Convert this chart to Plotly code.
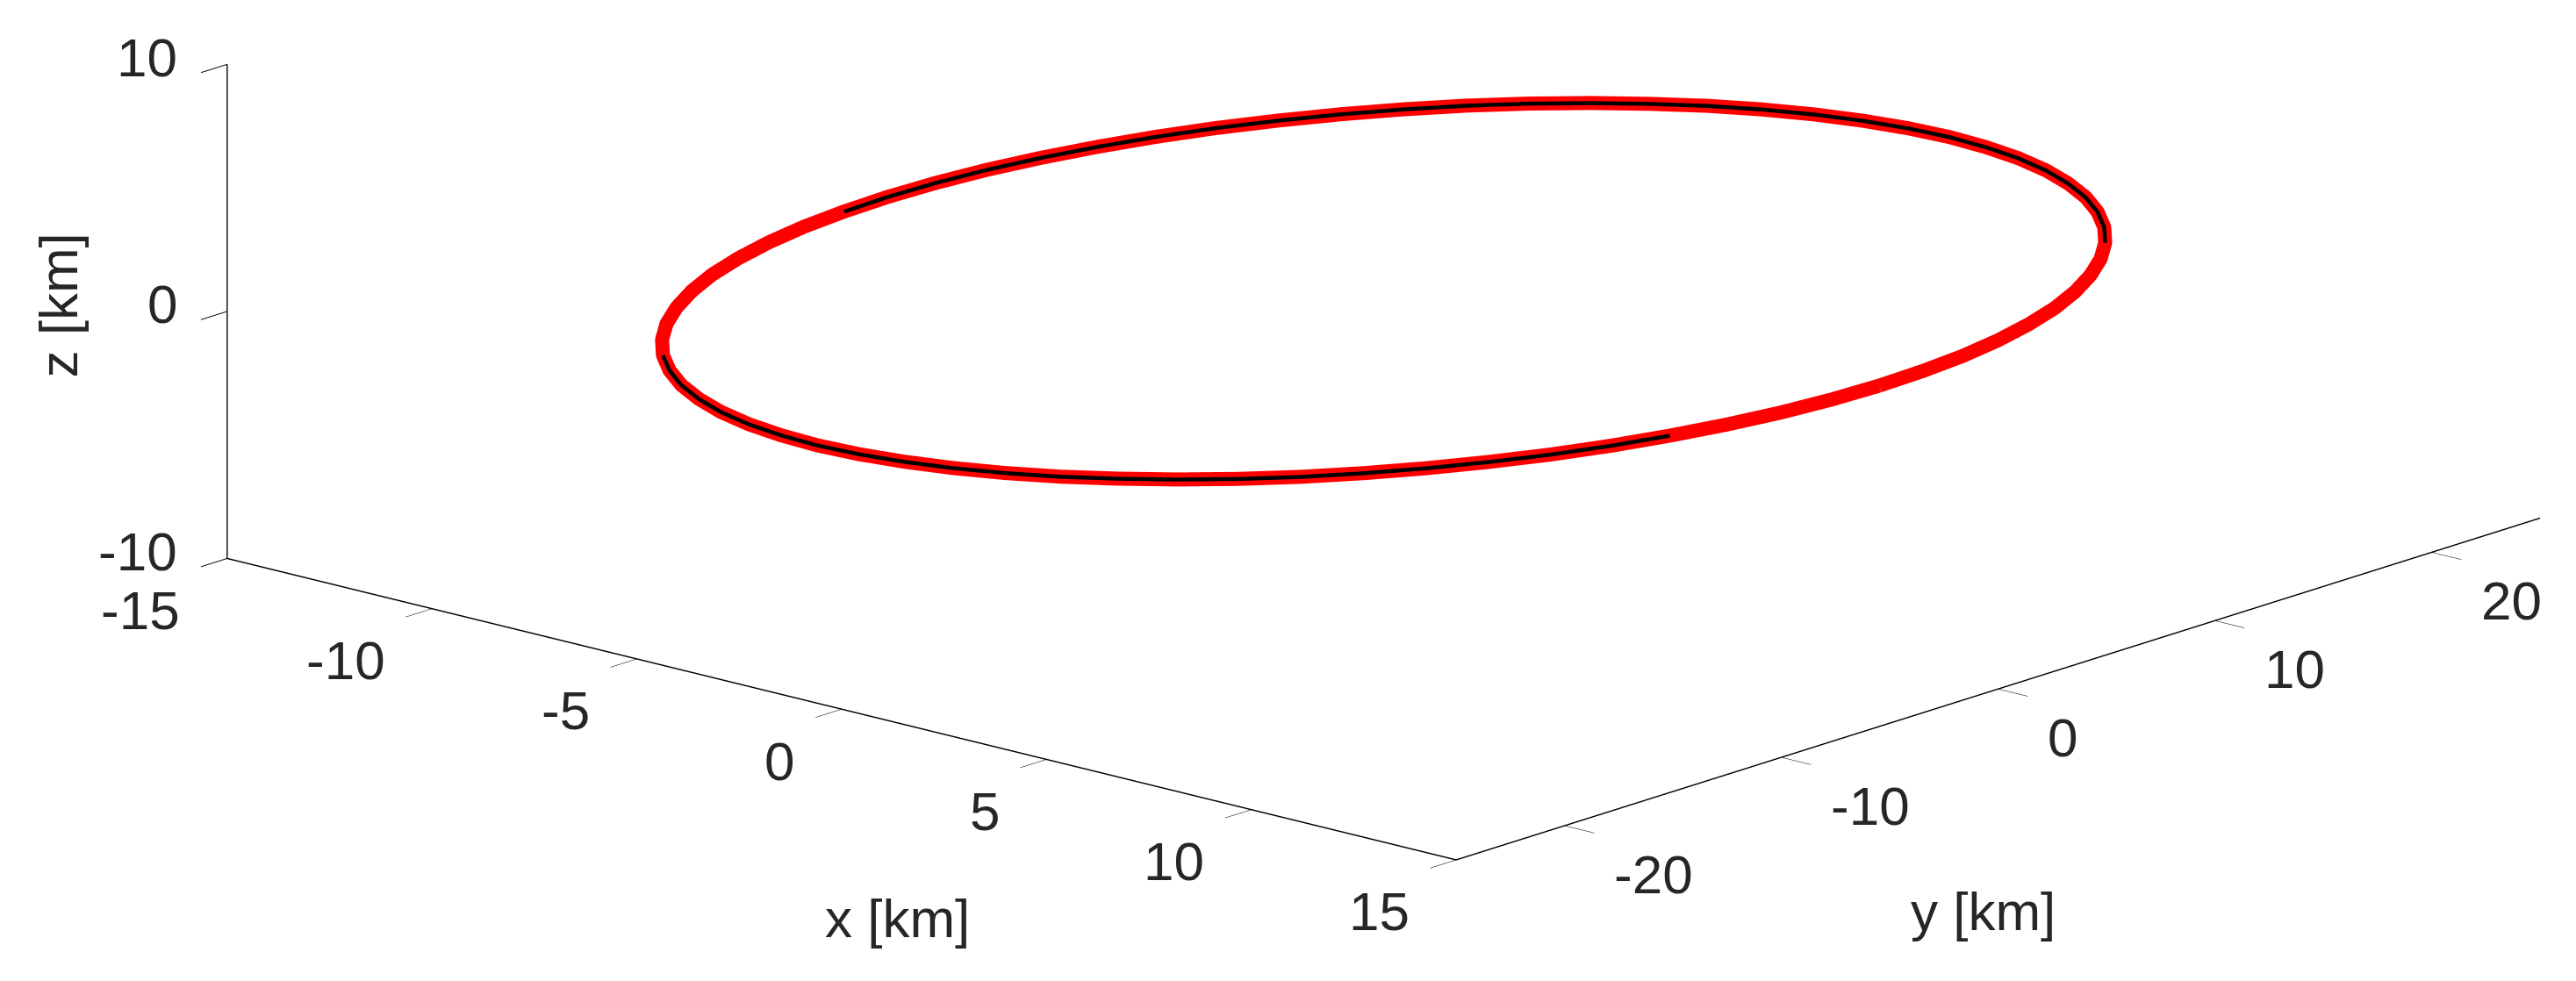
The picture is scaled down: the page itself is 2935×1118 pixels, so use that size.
import plotly.graph_objects as go

# orbit, one sample every 5 deg around the ellipse
orbit_x = [12.10, 12.05, 11.92, 11.69, 11.37, 10.97, 10.48, 9.91, 9.27, 8.56,
           7.78, 6.94, 6.05, 5.11, 4.14, 3.13, 2.10, 1.06, 0.00, -1.06,
           -2.10, -3.13, -4.14, -5.11, -6.05, -6.94, -7.78, -8.56, -9.27, -9.91,
           -10.48, -10.97, -11.37, -11.69, -11.92, -12.05, -12.10, -12.05, -11.92, -11.69,
           -11.37, -10.97, -10.48, -9.91, -9.27, -8.56, -7.78, -6.94, -6.05, -5.11,
           -4.14, -3.13, -2.10, -1.06, 0.00, 1.06, 2.10, 3.13, 4.14, 5.11,
           6.05, 6.94, 7.78, 8.56, 9.27, 9.91, 10.48, 10.97, 11.37, 11.69,
           11.92, 12.05, 12.10]
orbit_y = [0.00, 2.11, 4.20, 6.26, 8.28, 10.23, 12.10, 13.88, 15.56, 17.11,
           18.54, 19.82, 20.96, 21.93, 22.74, 23.37, 23.83, 24.11, 24.20, 24.11,
           23.83, 23.37, 22.74, 21.93, 20.96, 19.82, 18.54, 17.11, 15.56, 13.88,
           12.10, 10.23, 8.28, 6.26, 4.20, 2.11, 0.00, -2.11, -4.20, -6.26,
           -8.28, -10.23, -12.10, -13.88, -15.56, -17.11, -18.54, -19.82, -20.96, -21.93,
           -22.74, -23.37, -23.83, -24.11, -24.20, -24.11, -23.83, -23.37, -22.74, -21.93,
           -20.96, -19.82, -18.54, -17.11, -15.56, -13.88, -12.10, -10.23, -8.28, -6.26,
           -4.20, -2.11, 0.00]
orbit_z = [1.10, 1.09, 1.07, 1.04, 1.00, 0.95, 0.90, 0.84, 0.78, 0.71,
           0.63, 0.55, 0.46, 0.37, 0.28, 0.19, 0.09, 0.00, -0.10, -0.20,
           -0.29, -0.38, -0.47, -0.56, -0.64, -0.71, -0.78, -0.85, -0.91, -0.96,
           -1.00, -1.04, -1.07, -1.09, -1.10, -1.10, -1.10, -1.09, -1.07, -1.04,
           -1.00, -0.95, -0.90, -0.84, -0.78, -0.71, -0.63, -0.55, -0.46, -0.37,
           -0.28, -0.19, -0.09, 0.00, 0.10, 0.20, 0.29, 0.38, 0.47, 0.56,
           0.64, 0.71, 0.78, 0.85, 0.91, 0.96, 1.00, 1.04, 1.07, 1.09,
           1.10, 1.10, 1.10]

# stretches (sample index ranges) where the thin black track shows through
track_spans = [(9, 37), (46, 68)]

x_ticks = [-15, -10, -5, 0, 5, 10, 15]
y_ticks = [-20, -10, 0, 10, 20]
z_ticks = [-10, 0, 10]
x_range = [-15, 15]
y_range = [-25, 25]
z_range = [-10, 10]

FONT = "Liberation Sans, Arial, sans-serif"
INK = "#262626"
FS = 62

# black track is lifted a hair towards the camera so the red tube can't hide it
nudge = (0.38, -0.72, 0.35)
tx, ty, tz = [], [], []
for a, b in track_spans:
    tx += [v + nudge[0] for v in orbit_x[a:b + 1]] + [None]
    ty += [v + nudge[1] for v in orbit_y[a:b + 1]] + [None]
    tz += [v + nudge[2] for v in orbit_z[a:b + 1]] + [None]

fig = go.Figure()
fig.add_trace(go.Scatter3d(x=orbit_x, y=orbit_y, z=orbit_z, mode="lines",
                           line=dict(color="#ff0000", width=32),
                           hoverinfo="skip", showlegend=False))
fig.add_trace(go.Scatter3d(x=tx, y=ty, z=tz, mode="lines",
                           line=dict(color="#000000", width=9),
                           connectgaps=False, hoverinfo="skip", showlegend=False))


def axis(rng, ticks):
    return dict(range=rng, tickvals=ticks, showticklabels=False,
                showgrid=False, zeroline=False, showbackground=False,
                showline=True, linecolor="#000000", linewidth=3,
                ticks="outside", tickcolor="#000000", ticklen=45, tickwidth=2,
                showspikes=False, title=dict(text=""))


# tick labels as upright scene annotations (gl text gets skewed in ortho view);
# anchors sit a hair inside the box edge, exactly on it they get dropped
eps = 0.02
x_lo = x_range[0] + eps
y_lo = y_range[0] + eps
tick_font = dict(family=FONT, size=FS, color=INK)
labels = []
for t in x_ticks:
    labels.append(dict(x=t, y=y_lo, z=z_range[0], text=str(t),
                       xanchor="right", yanchor="middle", xshift=-52, yshift=-59))
for t in y_ticks:
    labels.append(dict(x=x_range[1], y=t, z=z_range[0], text=str(t),
                       xanchor="left", yanchor="middle", xshift=54, yshift=-55))
for t in z_ticks:
    labels.append(dict(x=x_lo, y=y_lo, z=t, text=str(t),
                       xanchor="right", yanchor="middle", xshift=-56, yshift=8))
for lab in labels:
    lab.update(showarrow=False, font=tick_font)

zoom = 3.34
center = (-0.0581, -0.2071, -0.4040)
eye_dir = (0.635, -0.720, 0.278)
r = 10.0  # far enough back that nothing in the box gets clipped
fig.update_layout(
    width=2935, height=1118,
    paper_bgcolor="white",
    margin=dict(l=0, r=0, t=0, b=0),
    scene=dict(
        domain=dict(x=[0, 1], y=[0, 1]),
        xaxis=axis(x_range, x_ticks),
        yaxis=axis(y_range, y_ticks),
        zaxis=axis(z_range, z_ticks),
        aspectmode="manual",
        aspectratio=dict(x=zoom, y=zoom, z=0.314 * zoom),
        camera=dict(projection=dict(type="orthographic"),
                    up=dict(x=0, y=0, z=1),
                    center=dict(x=center[0], y=center[1], z=center[2]),
                    eye=dict(x=center[0] + eye_dir[0] * r,
                             y=center[1] + eye_dir[1] * r,
                             z=center[2] + eye_dir[2] * r)),
        annotations=labels,
    ),
    annotations=[
        dict(text="x [km]", x=0.3455, y=0.0714, xref="paper", yref="paper",
             xanchor="center", yanchor="middle", showarrow=False,
             font=dict(family=FONT, size=FS, color=INK)),
        dict(text="y [km]", x=0.767, y=0.078, xref="paper", yref="paper",
             xanchor="center", yanchor="middle", showarrow=False,
             font=dict(family=FONT, size=FS, color=INK)),
        dict(text="z [km]", x=0.020, y=0.696, xref="paper", yref="paper",
             xanchor="center", yanchor="middle", textangle=-90, showarrow=False,
             font=dict(family=FONT, size=FS, color=INK)),
    ],
)

fig.write_html("out.html", config=dict(displayModeBar=False))
